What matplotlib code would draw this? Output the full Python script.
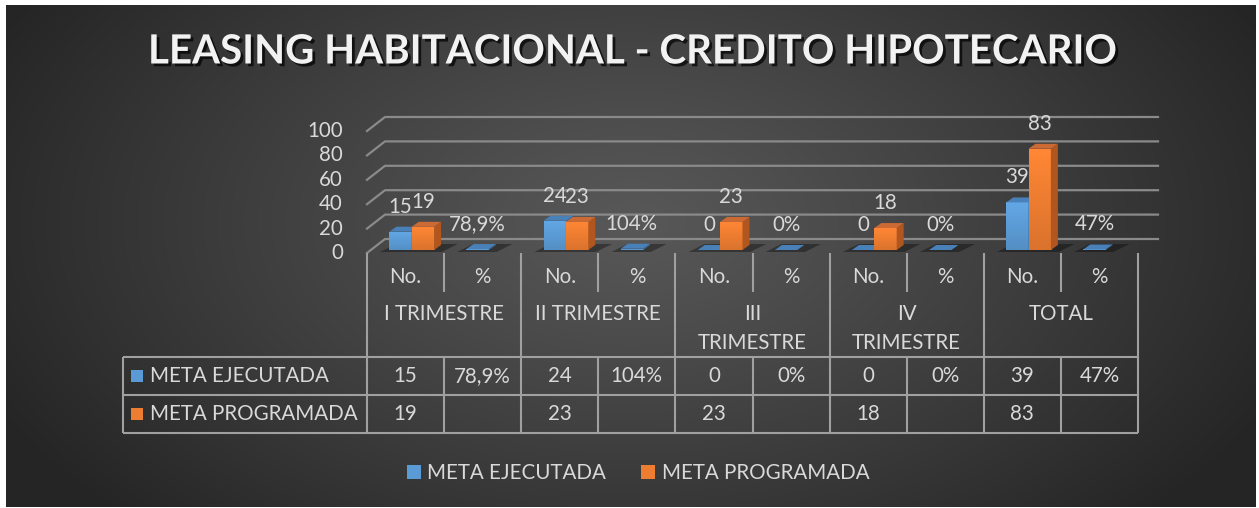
import numpy as np
import matplotlib.pyplot as plt
import matplotlib.patheffects as pe
from matplotlib.patches import Polygon, Rectangle, Patch
from matplotlib.transforms import IdentityTransform, offset_copy

plt.rcParams['font.family'] = ['Lato', 'DejaVu Sans']

title = 'LEASING HABITACIONAL - CREDITO HIPOTECARIO'
series = ['META EJECUTADA', 'META PROGRAMADA']
groups = ['I TRIMESTRE', 'II TRIMESTRE', 'III\nTRIMESTRE', 'IV\nTRIMESTRE', 'TOTAL']
subcols = ['No.', '%']
ejecutada_no = [15, 24, 0, 0, 39]
ejecutada_pct = [78.9, 104, 0, 0, 47]
programada_no = [19, 23, 23, 18, 83]
yticks = [0, 20, 40, 60, 80, 100]

TXT = '#d9d9d9'
GRID = '#8a8a8a'
LINE = '#a0a0a0'
BLUE = ('#5b9bd5', '#4a80b8', '#3f6e9c')      # front, top, side
ORANGE = ('#ed7d31', '#cc6a36', '#b0561e')
FS = 14.8


def pct_label(v):
    if float(v).is_integer():
        return f'{int(v)}%'
    return f'{v:.1f}%'.replace('.', ',')


W, H = 1259, 508
fig = plt.figure(figsize=(W / 100, H / 100), dpi=100, facecolor='white')

# background with radial gradient
bg = fig.add_axes([0, 0, 1, 1])
bg.set_xlim(0, W)
bg.set_ylim(H, 0)
bg.axis('off')
yy, xx = np.mgrid[0:H, 0:W]
t = np.clip(np.sqrt(((xx - 630) / 720.0) ** 2 + ((yy - 220) / 430.0) ** 2), 0, 1)
c0, c1 = 0x58 / 255, 0x25 / 255
img = c0 + (c1 - c0) * t ** 1.1
bg.imshow(np.dstack([img] * 3), extent=(6, 1256, 507, 5), aspect='auto', zorder=0)

# plot area: 10 sub-columns
x0px, colw = 367, 77.1
base_px, unit_px = 250, 1.22
ax = fig.add_axes([x0px / W, (H - base_px) / H, 10 * colw / W, 100 * unit_px / H])
ax.set_xlim(-0.5, 9.5)
ax.set_ylim(0, 100)
ax.axis('off')

IDT = IdentityTransform()


def disp(x, v, dx=0, dy=0):
    X, Y = ax.transData.transform((x, v))
    return (X + dx, Y + dy)


# gridlines (floor + back wall)
for v in yticks:
    pts = np.array([disp(-0.5, v, 0, -3), disp(-0.5, v, 18, 11), disp(9.5, v, 20, 11)])
    ax.plot(pts[:, 0], pts[:, 1], color=GRID, lw=1.6, transform=IDT, clip_on=False, zorder=1)
    ax.text(-0.5, v, str(v), transform=offset_copy(ax.transData, fig=fig, x=-24, y=-3, units='dots'),
            ha='right', va='center', color=TXT, fontsize=FS)

# bar values per sub-column
cols = np.arange(10)
blue_vals = []
orange_vals = []
for g in range(len(groups)):
    blue_vals += [ejecutada_no[g], ejecutada_pct[g] / 100]
    orange_vals += [programada_no[g], None]

bw = 0.29
DX, DY = 7, 5
lab_tr = offset_copy(ax.transData, fig=fig, x=0, y=25, units='dots')


def draw_faces(x0, x1, v, colors, z):
    top = [disp(x0, v), disp(x1, v), disp(x1, v, DX, DY), disp(x0, v, DX, DY)]
    side = [disp(x1, 0), disp(x1, v), disp(x1, v, DX, DY), disp(x1, 0, DX, DY)]
    ax.add_patch(Polygon(side, closed=True, facecolor=colors[2], edgecolor='none',
                         transform=IDT, clip_on=False, zorder=z))
    ax.add_patch(Polygon(top, closed=True, facecolor=colors[1], edgecolor='none',
                         transform=IDT, clip_on=False, zorder=z))


grad = np.linspace(1.08, 0.92, 50)[:, None, None]


def shaded_bar(x0, v, color, z):
    rect = ax.bar(x0, v, width=bw, align='edge', color=color, zorder=z, clip_on=False)[0]
    if v > 0:
        rgb = np.array(plt.matplotlib.colors.to_rgb(color))
        im = ax.imshow(np.clip(grad * rgb, 0, 1), extent=(x0, x0 + bw, 0, v), aspect='auto',
                       zorder=z + 0.1, interpolation='bilinear')
        im.set_clip_path(rect)


for c in cols:
    bv, ov = blue_vals[c], orange_vals[c]
    xb0 = c - 0.21
    xo0 = xb0 + bw
    # floor shadow
    sh_right = xo0 + bw if ov is not None else xb0 + bw
    shadow = [disp(xb0 - 0.12, 0, 0, -2), disp(sh_right + 0.1, 0, 0, -2),
              disp(sh_right + 0.1, 0, 16, 6), disp(xb0 - 0.12, 0, 16, 6)]
    ax.add_patch(Polygon(shadow, closed=True, facecolor='black', alpha=0.35, edgecolor='none',
                         transform=IDT, clip_on=False, zorder=2))
    shaded_bar(xb0, bv, BLUE[0], 3)
    draw_faces(xb0, xb0 + bw, bv, BLUE, 4)
    if c % 2 == 0:
        blab = str(bv)
    else:
        blab = pct_label(ejecutada_pct[c // 2])
    ax.text(xb0 + bw / 2, bv, blab, transform=lab_tr, ha='center', va='center',
            color=TXT, fontsize=FS, zorder=10)
    if ov is not None:
        shaded_bar(xo0, ov, ORANGE[0], 5)
        draw_faces(xo0, xo0 + bw, ov, ORANGE, 6)
        ax.text(xo0 + bw / 2, ov, str(ov), transform=lab_tr, ha='center', va='center',
                color=TXT, fontsize=FS, zorder=10)

ax.set_xlim(-0.5, 9.5)
ax.set_ylim(0, 100)

# data table
left_px, top_px, bot_px = 123, 253, 433
row_lines = [357, 395, 433]
tab = fig.add_axes([left_px / W, (H - bot_px) / H, (x0px + 10 * colw - left_px) / W, (bot_px - top_px) / H])
xmin = -0.5 - (x0px - left_px) / colw
tab.set_xlim(xmin, 9.5)
tab.set_ylim(bot_px, top_px)
tab.axis('off')

kw = dict(color=LINE, lw=1.5, clip_on=False, solid_capstyle='butt')
for b in np.arange(-0.5, 10, 2):
    tab.plot([b, b], [top_px, bot_px], **kw)
for b in np.arange(0.5, 10, 2):
    tab.plot([b, b], [top_px, 292], **kw)
    tab.plot([b, b], [row_lines[0], bot_px], **kw)
for y in row_lines:
    tab.plot([xmin, 9.5], [y, y], **kw)
tab.plot([xmin, xmin], [row_lines[0], bot_px], **kw)

for c in cols:
    tab.text(c, 277, subcols[c % 2], ha='center', va='center', color=TXT, fontsize=FS)
for g, name in enumerate(groups):
    for i, line in enumerate(name.split('\n')):
        tab.text(2 * g + 0.5, 314 + 29 * i, line, ha='center', va='center', color=TXT, fontsize=FS)
    tab.text(2 * g, 376, str(ejecutada_no[g]), ha='center', va='center', color=TXT, fontsize=FS)
    tab.text(2 * g + 1, 376, pct_label(ejecutada_pct[g]), ha='center', va='center', color=TXT, fontsize=FS)
    tab.text(2 * g, 414, str(programada_no[g]), ha='center', va='center', color=TXT, fontsize=FS)

for i, (name, colr) in enumerate(zip(series, [BLUE[0], ORANGE[0]])):
    yc = (row_lines[i] + row_lines[i + 1]) / 2
    kx = xmin + 8 / colw
    tab.add_patch(Rectangle((kx, yc - 6), 12 / colw, 12, facecolor=colr, edgecolor='none', clip_on=False))
    tab.text(xmin + 27 / colw, yc, name, ha='left', va='center', color=TXT, fontsize=FS)

# legend
fig.legend(handles=[Patch(facecolor=BLUE[0]), Patch(facecolor=ORANGE[0])], labels=series,
           loc='center', bbox_to_anchor=(638 / W, 1 - 473 / H), ncol=2, frameon=False,
           labelcolor=TXT, fontsize=FS, handlelength=0.7, handleheight=0.7,
           handletextpad=0.3, columnspacing=1.7)

fig.text(632 / W, 1 - 52 / H, title, ha='center', va='center', fontsize=29, fontweight='bold',
         color='#f2f2f2',
         path_effects=[pe.withSimplePatchShadow(offset=(2, -2), shadow_rgbFace='black', alpha=0.7)])

fig.savefig('out.png', dpi=100, facecolor='white')
